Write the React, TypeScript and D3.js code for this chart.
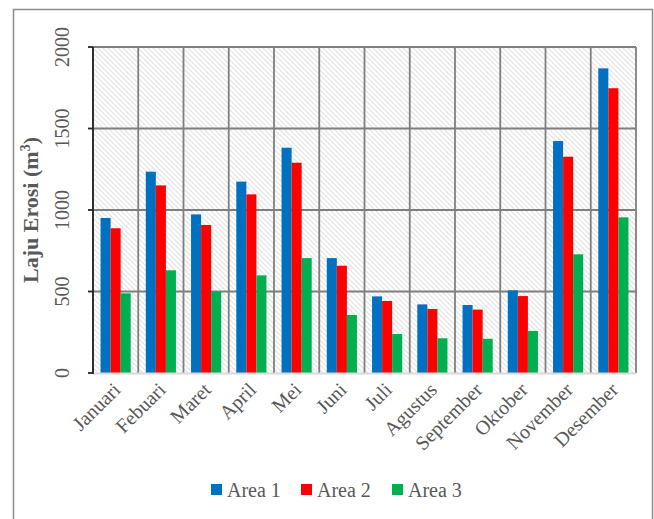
import * as d3 from "d3";

const months = [
  "Januari", "Febuari", "Maret", "April", "Mei", "Juni",
  "Juli", "Agustus", "September", "Oktober", "November", "Desember",
];
const seriesNames = ["Area 1", "Area 2", "Area 3"];
const area1 = [951, 1235, 973, 1174, 1382, 705, 470, 421, 417, 507, 1423, 1869];
const area2 = [888, 1151, 908, 1096, 1290, 658, 442, 393, 389, 472, 1327, 1747];
const area3 = [489, 630, 498, 599, 705, 356, 239, 213, 210, 258, 728, 955];
const yTicks = [0, 500, 1000, 1500, 2000];

const colors = ["#0070C0", "#FF0000", "#00B050"];
const values = [area1, area2, area3];

const width = 654;
const height = 519;
const plot = { left: 93, right: 636, top: 47, bottom: 373 };
const font = "'Liberation Serif', 'Times New Roman', serif";
const textColor = "#595959";

export default function App() {
  const x = d3.scaleBand<string>().domain(months).range([plot.left, plot.right]).padding(0);
  const xs = d3
    .scaleBand<string>()
    .domain(seriesNames)
    .range([0, x.bandwidth()])
    .paddingInner(0)
    .paddingOuter(0.75);
  const y = d3.scaleLinear().domain([0, 2000]).range([plot.bottom, plot.top]);

  const legendX = [211, 301, 392];

  return (
    <svg
      width={width}
      height={height}
      style={{ position: "absolute", left: 0, top: 0 }}
      fontFamily={font}
    >
      <defs>
        <pattern id="hatch" patternUnits="userSpaceOnUse" width={5} height={5}>
          <rect width={5} height={5} fill="#fff" />
          <path d="M-1,-1 L6,6 M-1,4 L1,6 M4,-1 L6,1" stroke="#e3e3e3" strokeWidth={1.2} />
        </pattern>
      </defs>
      <rect x={0} y={0} width={width} height={height} fill="#fff" />
      <rect x={13.5} y={9.5} width={639} height={530} fill="none" stroke="#8c8c8c" strokeWidth={1.5} />

      {/* plot background */}
      <rect
        x={plot.left}
        y={plot.top}
        width={plot.right - plot.left}
        height={plot.bottom - plot.top}
        fill="url(#hatch)"
      />

      {/* gridlines */}
      {yTicks.slice(1).map((t) => (
        <line key={t} x1={plot.left} x2={plot.right} y1={y(t)} y2={y(t)} stroke="#7f7f7f" strokeWidth={1.8} />
      ))}
      {months.map((m) => (
        <line key={m} x1={x(m)!} x2={x(m)!} y1={plot.top} y2={plot.bottom} stroke="#7f7f7f" strokeWidth={1.8} />
      ))}
      <line x1={plot.right} x2={plot.right} y1={plot.top} y2={plot.bottom} stroke="#7f7f7f" strokeWidth={1.8} />

      {/* bars */}
      {values.map((vals, si) => (
        <g key={si} fill={colors[si]}>
          {vals.map((v, i) => (
            <rect
              key={i}
              x={x(months[i])! + xs(seriesNames[si])!}
              y={y(v)}
              width={xs.bandwidth()}
              height={y(0) - y(v)}
            />
          ))}
        </g>
      ))}

      {/* x axis */}
      <line x1={plot.left} x2={plot.right} y1={plot.bottom + 0.5} y2={plot.bottom + 0.5} stroke="#d9d9d9" strokeWidth={2} />
      {/* y axis */}
      <line x1={plot.left} x2={plot.left} y1={plot.top} y2={plot.bottom + 1} stroke="#262626" strokeWidth={1.8} />
      {yTicks.map((t) => (
        <g key={t}>
          <line x1={plot.left - 5} x2={plot.left} y1={y(t)} y2={y(t)} stroke="#262626" strokeWidth={1.8} />
          <text
            transform={`translate(69,${y(t)}) rotate(-90)`}
            textAnchor="middle"
            fontSize={20}
            fill={textColor}
          >
            {t}
          </text>
        </g>
      ))}

      {/* month labels */}
      {months.map((m) => (
        <text
          key={m}
          transform={`translate(${x(m)! + x.bandwidth() / 2 + 6},${plot.bottom + 18}) rotate(-45)`}
          textAnchor="end"
          fontSize={20}
          fill={textColor}
        >
          {m}
        </text>
      ))}

      {/* y title */}
      <text
        transform={`translate(38,${(plot.top + plot.bottom) / 2}) rotate(-90)`}
        textAnchor="middle"
        fontSize={22}
        fontWeight="bold"
        fill={textColor}
      >
        Laju Erosi (m<tspan dy={-8} fontSize={14}>3</tspan>
        <tspan dy={8}>)</tspan>
      </text>

      {/* legend */}
      {seriesNames.map((s, i) => (
        <g key={s}>
          <rect x={legendX[i]} y={484} width={11} height={11} fill={colors[i]} />
          <text x={legendX[i] + 16} y={497} fontSize={20} fill={textColor}>
            {s}
          </text>
        </g>
      ))}
    </svg>
  );
}
